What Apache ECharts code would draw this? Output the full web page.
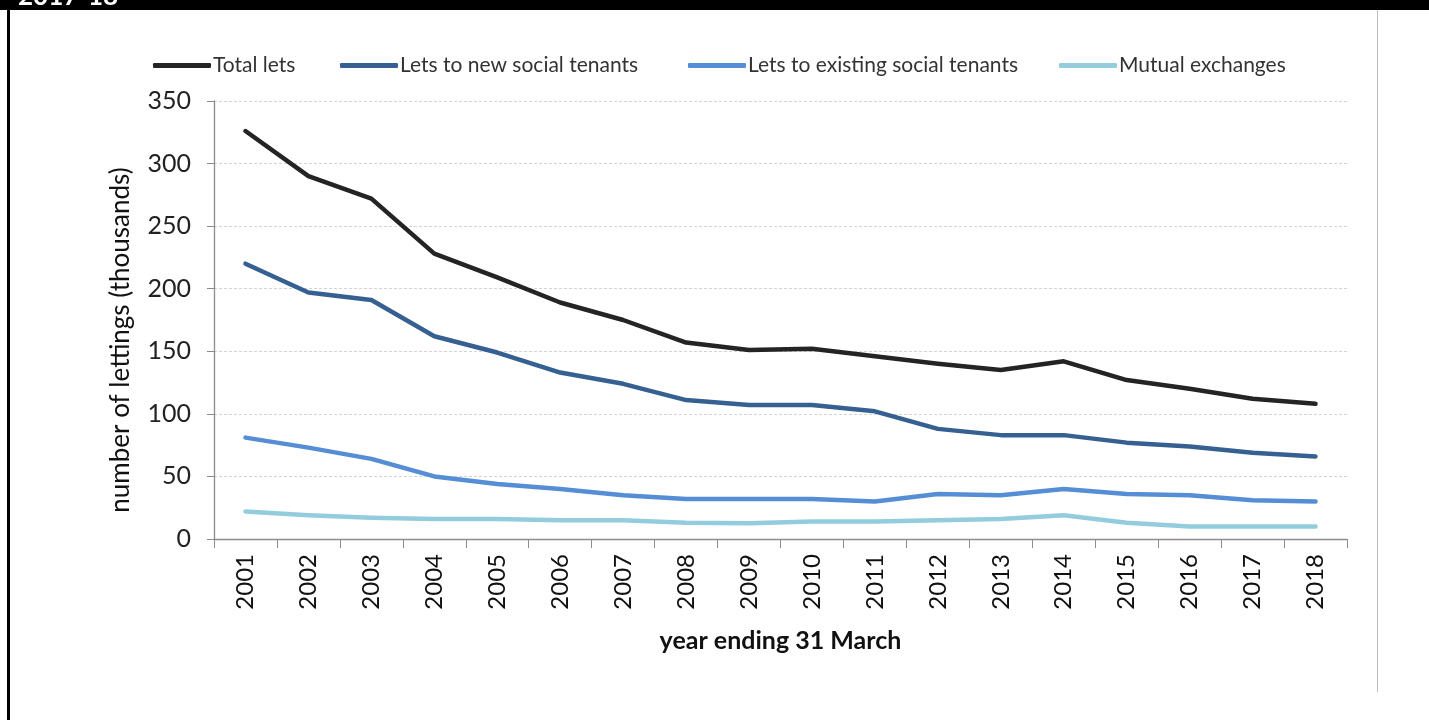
<!DOCTYPE html>
<html><head><meta charset="utf-8">
<script src="https://cdn.jsdelivr.net/npm/echarts@6/dist/echarts.min.js"></script>
<style>html,body{margin:0;padding:0;background:#fff}#c{width:1429px;height:720px}</style>
</head><body><div id="c"></div>
<script>
const years = ['2001','2002','2003','2004','2005','2006','2007','2008','2009','2010','2011','2012','2013','2014','2015','2016','2017','2018'];
const totalLets = [326, 290, 272, 228, 209, 189, 175, 157, 151, 152, 146, 140, 135, 142, 127, 120, 112, 108];
const newTenants = [220, 197, 191, 162, 149, 133, 124, 111, 107, 107, 102, 88, 83, 83, 77, 74, 69, 66];
const existingTenants = [81, 73, 64, 50, 44, 40, 35, 32, 32, 32, 30, 36, 35, 40, 36, 35, 31, 30];
const mutualExchanges = [22, 19, 17, 16, 16, 15, 15, 13, 12.5, 14, 14, 15, 16, 19, 13, 10, 10, 10];
const seriesNames = ['Total lets','Lets to new social tenants','Lets to existing social tenants','Mutual exchanges'];
const colors = ['#242424','#376092','#558ED5','#93CDDD'];
const yTicks = [0, 50, 100, 150, 200, 250, 300, 350];

const font = 'Lato, "Open Sans", sans-serif';
const chart = echarts.init(document.getElementById('c'), null, {renderer:'canvas'});
const dataSets = [totalLets, newTenants, existingTenants, mutualExchanges];
const legendLefts = [148, 335, 683, 1054];
chart.setOption({
  animation: false,
  backgroundColor: '#fff',
  textStyle: {fontFamily: font},
  legend: seriesNames.map((n, i) => ({
    data: [n], left: legendLefts[i], top: 50, itemWidth: 58, itemHeight: 5, itemGap: 0,
    icon: 'roundRect',
    textStyle: {fontFamily: font, fontSize: 21, color: '#333', padding: [0,0,0,-3]}
  })),
  grid: {left: 214, right: 82, top: 101, bottom: 181, containLabel: false},
  xAxis: {
    type: 'category', data: years, boundaryGap: true,
    name: 'year ending 31 March', nameLocation: 'middle', nameGap: 89,
    nameTextStyle: {fontFamily: font, fontSize: 25, fontWeight: 'bold', color: '#111'},
    axisLine: {lineStyle: {color: '#8c8c8c', width: 1.3}},
    axisTick: {show: true, length: 9, lineStyle: {color: '#8c8c8c'}},
    axisLabel: {rotate: 90, fontSize: 24, color: '#111', margin: 15, fontFamily: font, interval: 0}
  },
  yAxis: {
    type: 'value', min: 0, max: 350, interval: 50,
    name: 'number of lettings (thousands)', nameLocation: 'middle', nameGap: 80,
    nameTextStyle: {fontFamily: font, fontSize: 26, color: '#111', padding: [0, 40, 0, 0]},
    axisLine: {show: true, lineStyle: {color: '#8c8c8c', width: 1.3}},
    axisTick: {show: true, length: 7, inside: false, lineStyle: {color: '#8c8c8c'}},
    axisLabel: {fontSize: 25, color: '#222', margin: 23, fontFamily: font,
      formatter: v => yTicks.includes(v) ? String(v) : ''},
    splitLine: {show: true, lineStyle: {color: '#d4d4d4', type: [3, 2], width: 1}}
  },
  series: seriesNames.map((n, i) => ({
    name: n, type: 'line', data: dataSets[i], symbol: 'none', smooth: false,
    lineStyle: {color: colors[i], width: 4.5, cap: 'round', join: 'round'},
    itemStyle: {color: colors[i]}, z: 10 - i
  })),
  graphic: [
    {type: 'rect', shape: {x: 0, y: 0, width: 1429, height: 10}, style: {fill: '#000'}},
    {type: 'text', left: 18, top: -16, style: {text: '2017-18', fill: '#fff', font: 'bold 26px Lato, sans-serif'}, z: 100},
    {type: 'rect', shape: {x: 7, y: 0, width: 3, height: 720}, style: {fill: '#000'}},
    {type: 'rect', shape: {x: 1377, y: 10, width: 1, height: 682}, style: {fill: '#bdbdbd'}}
  ]
});
</script></body></html>
